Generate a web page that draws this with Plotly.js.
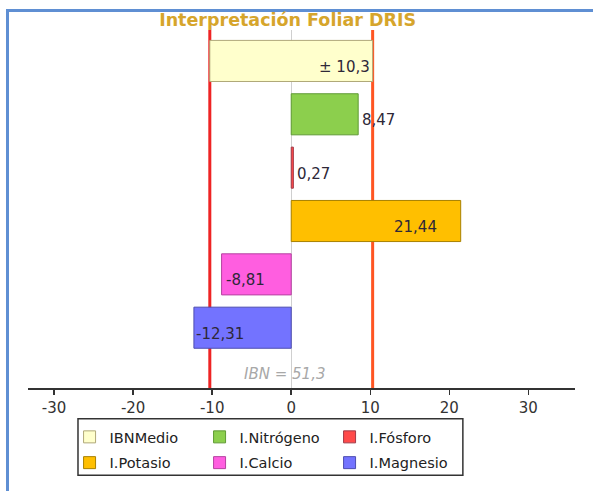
<!DOCTYPE html>
<html>
<head>
<meta charset="utf-8">
<script src="https://cdn.plot.ly/plotly-3.0.1.min.js"></script>
<style>
  html, body { margin: 0; padding: 0; background: #fff; }
  #wrap { position: relative; width: 593px; height: 491px; overflow: hidden; }
  #frame { position: absolute; left: 6px; top: 9px; width: 600px; height: 500px;
           border-top: 3px solid #5f8fd3; border-left: 3px solid #5f8fd3; box-sizing: border-box; }
  #chart { position: absolute; left: 0; top: 0; width: 593px; height: 491px; }
</style>
</head>
<body>
<div id="wrap">
  <div id="frame"></div>
  <div id="chart"></div>
</div>
<script>
// ---- data ----
const categories = ['IBNMedio', 'I.Nitrógeno', 'I.Fósforo', 'I.Potasio', 'I.Calcio', 'I.Magnesio'];
const values = [10.3, 8.47, 0.27, 21.44, -8.81, -12.31];   // IBNMedio is a ± band
const ibnTotal = 51.3;
const tickValues = [-30, -20, -10, 0, 10, 20, 30];
const tickLabels = ['-30', '-20', '-10', '0', '10', '20', '30'];

// ---- styles ----
const fillColors = ['#ffffcc', '#8ccf4d', '#ff4a4a', '#ffbf00', '#ff5ee0', '#7373ff'];
const lineColors = ['#b0a878', '#5f9a34', '#a03a48', '#a88000', '#b542a0', '#4d4db0'];
const labelAnchor = ['right', 'left', 'left', 'right', 'left', 'left'];
const labelShift = [-1, 2, 2, -22, 2, 0];
const fontFam = 'DejaVu Sans, Verdana, sans-serif';

function fmt(v, d) { return v.toFixed(d).replace('.', ','); }

const traces = categories.map((c, i) => {
  const isBand = i === 0;
  return {
    type: 'bar',
    orientation: 'h',
    name: c,
    y: [i],
    x: [isBand ? 2 * values[i] : values[i]],
    base: [isBand ? -values[i] : 0],
    width: 0.77,
    marker: { color: fillColors[i], line: { color: lineColors[i], width: 1 } },
    legend: i < 3 ? 'legend' : 'legend2',
    hoverinfo: 'name+x'
  };
});

const annotations = categories.map((c, i) => {
  const isBand = i === 0;
  return {
    x: values[i], y: i, xref: 'x', yref: 'y',
    text: isBand ? '± ' + fmt(values[i], 1) : fmt(values[i], 2),
    showarrow: false, xanchor: labelAnchor[i], yanchor: 'middle',
    xshift: labelShift[i], yshift: -6,
    font: { family: fontFam, size: 15, color: '#2e2838' }
  };
});
annotations.push({
  x: 0, y: 0.04, xref: 'x', yref: 'paper', xanchor: 'center', yanchor: 'middle', xshift: -7,
  text: '<i>IBN = ' + fmt(ibnTotal, 1) + '</i>', showarrow: false,
  font: { family: fontFam, size: 15, color: '#a8a8a8' }
});

const band = values[0];
const shapes = [
  { type: 'line', xref: 'x', yref: 'paper', x0: -band, x1: -band, y0: 0, y1: 1, layer: 'below',
    line: { color: '#ee2424', width: 3 } },
  { type: 'line', xref: 'x', yref: 'paper', x0: band, x1: band, y0: 0, y1: 1, layer: 'below',
    line: { color: '#ff5522', width: 3 } },
  { type: 'rect', xref: 'paper', yref: 'paper', x0: 0.0914, x1: 0.795, y0: -0.086, y1: -0.244,
    line: { color: '#333', width: 1.5 }, fillcolor: 'rgba(0,0,0,0)' }
];

const legendCommon = {
  orientation: 'h', xanchor: 'left', yanchor: 'top', x: 0.076,
  entrywidth: 85, entrywidthmode: 'pixels',
  bgcolor: 'rgba(0,0,0,0)', borderwidth: 0,
  font: { family: fontFam, size: 14.5, color: '#222' }
};

const layout = {
  width: 593, height: 491,
  margin: { l: 28, r: 18, t: 30, b: 101 },
  paper_bgcolor: 'rgba(0,0,0,0)', plot_bgcolor: 'rgba(0,0,0,0)',
  barmode: 'overlay',
  title: {
    text: 'Interpretación Foliar DRIS',
    x: 0.485, xref: 'container', xanchor: 'center',
    y: 0.959, yref: 'container', yanchor: 'middle',
    font: { family: fontFam, size: 17.5, color: '#d6a52c', weight: 'bold' }
  },
  xaxis: {
    range: [-33.3, 35.9], fixedrange: true,
    tickvals: tickValues, ticktext: tickLabels,
    ticks: 'outside', ticklen: 5, tickwidth: 1.5, tickcolor: '#333',
    showline: true, linecolor: '#333', linewidth: 1.5,
    showgrid: false, zeroline: true, zerolinecolor: '#cfcfcf', zerolinewidth: 1,
    tickfont: { family: fontFam, size: 15, color: '#333' }
  },
  yaxis: {
    range: [6.13, -0.58], fixedrange: true,
    showticklabels: false, ticks: '', showline: false, showgrid: false, zeroline: false
  },
  showlegend: true,
  legend: Object.assign({}, legendCommon, { y: -0.092 }),
  legend2: Object.assign({}, legendCommon, { y: -0.164 }),
  annotations: annotations,
  shapes: shapes
};

Plotly.newPlot('chart', traces, layout, { displayModeBar: false, staticPlot: true });
</script>
</body>
</html>
